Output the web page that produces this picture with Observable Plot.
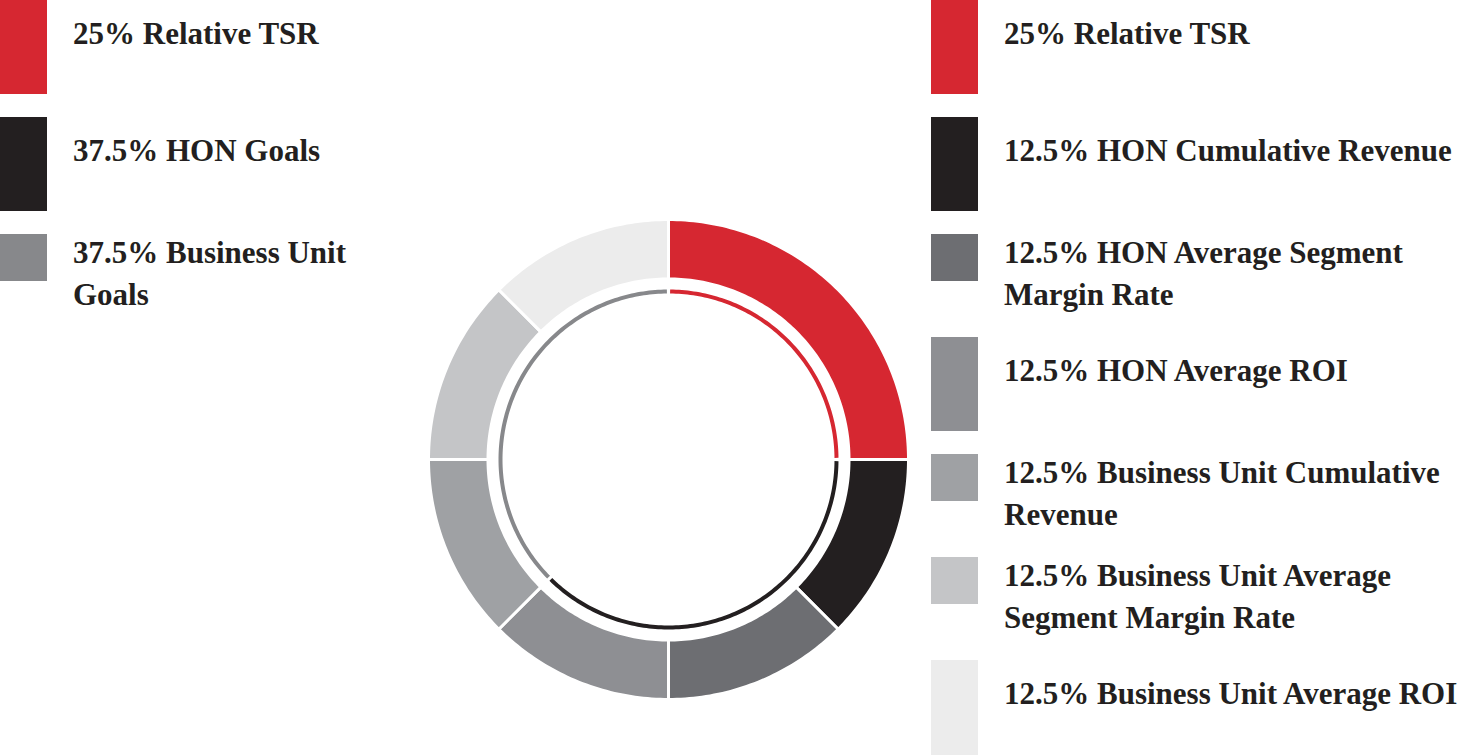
<!DOCTYPE html>
<html>
<head>
<meta charset="utf-8">
<script src="https://cdn.jsdelivr.net/npm/d3@7"></script>
<script src="https://cdn.jsdelivr.net/npm/@observablehq/plot@0.6"></script>
<style>
  html, body { margin: 0; padding: 0; background: #fff; overflow: hidden; }
  #wrap { position: relative; width: 1465px; height: 755px; }
  #chart { position: absolute; left: 0; top: 0; }
  .legend { position: absolute; top: 0; }
  .item { position: absolute; left: 0; }
  .swatch { position: absolute; left: 0; top: 0; width: 47px; }
  .label { position: absolute; left: 73px; font-family: "Liberation Serif", "Times New Roman", serif;
           font-weight: bold; font-size: 31px; line-height: 42px; color: #231f20; white-space: normal; }
</style>
</head>
<body>
<div id="wrap">
  <div id="chart"></div>
  <div class="legend" id="legendLeft" style="left:0px"></div>
  <div class="legend" id="legendRight" style="left:931px"></div>
</div>
<script>
// ---- data ----
const goalCategories = ["Relative TSR", "HON Goals", "Business Unit Goals"];
const goalWeights = [25, 37.5, 37.5];

const metricCategories = [
  "Relative TSR",
  "HON Cumulative Revenue",
  "HON Average Segment Margin Rate",
  "HON Average ROI",
  "Business Unit Cumulative Revenue",
  "Business Unit Average Segment Margin Rate",
  "Business Unit Average ROI"
];
const metricWeights = [25, 12.5, 12.5, 12.5, 12.5, 12.5, 12.5];

// ---- styles ----
const colorDomain = [...metricCategories, "HON Goals", "Business Unit Goals"];
const colorRange = ["#d62731", "#231f20", "#6d6e72", "#8e8f93", "#9fa1a4", "#c4c5c7", "#ececec", "#231f20", "#87888b"];

const R = 240;            // px per radius unit
const cx = 668, cy = 459; // donut centre in px
const outerR1 = 1.0, outerR0 = 180.5 / R;
const innerR = 168 / R;
const innerPad = 1.6 / 168;

function arcs(cats, weights) {
  const total = d3.sum(weights);
  let acc = 0;
  return cats.map((c, i) => {
    const a0 = acc / total * 2 * Math.PI;
    acc += weights[i];
    const a1 = acc / total * 2 * Math.PI;
    return {cat: c, a0, a1};
  });
}

function ringPolygon(a, r0, r1) {
  const n = Math.max(8, Math.ceil((a.a1 - a.a0) / (Math.PI / 180)));
  const pts = [];
  for (let k = 0; k <= n; k++) {
    const t = a.a0 + (a.a1 - a.a0) * k / n;
    pts.push({cat: a.cat, x: r1 * Math.sin(t), y: r1 * Math.cos(t)});
  }
  for (let k = n; k >= 0; k--) {
    const t = a.a0 + (a.a1 - a.a0) * k / n;
    pts.push({cat: a.cat, x: r0 * Math.sin(t), y: r0 * Math.cos(t)});
  }
  pts.push(pts[0]);
  return pts;
}

function arcLine(a, r, pad) {
  const b0 = a.a0 + pad, b1 = a.a1 - pad;
  const n = Math.max(8, Math.ceil((b1 - b0) / (Math.PI / 180)));
  const pts = [];
  for (let k = 0; k <= n; k++) {
    const t = b0 + (b1 - b0) * k / n;
    pts.push({cat: a.cat, x: r * Math.sin(t), y: r * Math.cos(t)});
  }
  return pts;
}

const outerPts = arcs(metricCategories, metricWeights).flatMap(a => ringPolygon(a, outerR0, outerR1));
const innerPts = arcs(goalCategories, goalWeights).flatMap(a => arcLine(a, innerR, innerPad));

const plot = Plot.plot({
  width: 1465,
  height: 755,
  margin: 0,
  x: {type: "linear", domain: [-1, 1], range: [cx - R, cx + R], axis: null},
  y: {type: "linear", domain: [-1, 1], range: [cy + R, cy - R], axis: null},
  color: {domain: colorDomain, range: colorRange},
  style: {background: "transparent"},
  marks: [
    Plot.line(outerPts, {x: "x", y: "y", z: "cat", fill: "cat", stroke: "white", strokeWidth: 3, curve: "linear"}),
    Plot.line(innerPts, {x: "x", y: "y", z: "cat", stroke: "cat", strokeWidth: 4, curve: "linear", strokeLinecap: "butt"})
  ]
});
document.getElementById("chart").appendChild(plot);

const color = plot.scale("color");
const colorOf = c => colorRange[color.domain.indexOf(c)];

function buildLegend(el, cats, weights, textWidth) {
  let y = 0;
  cats.forEach((c, i) => {
    const item = document.createElement("div");
    item.className = "item";
    item.style.top = y + "px";
    const sw = document.createElement("div");
    sw.className = "swatch";
    sw.style.background = colorOf(c);
    const lab = document.createElement("div");
    lab.className = "label";
    lab.style.width = textWidth + "px";
    lab.textContent = `${weights[i]}% ${c}`;
    item.appendChild(sw);
    item.appendChild(lab);
    el.appendChild(item);
    const lines = Math.round(lab.offsetHeight / 42);
    if (lines >= 2) {
      sw.style.height = "47px";
      lab.style.top = "-2px";
      y += 103;
    } else {
      sw.style.height = (i === cats.length - 1 ? 95 : 94) + "px";
      lab.style.top = "13px";
      y += 117;
    }
  });
}

buildLegend(document.getElementById("legendLeft"), goalCategories, goalWeights, 300);
buildLegend(document.getElementById("legendRight"), metricCategories, metricWeights, 470);
</script>
</body>
</html>
